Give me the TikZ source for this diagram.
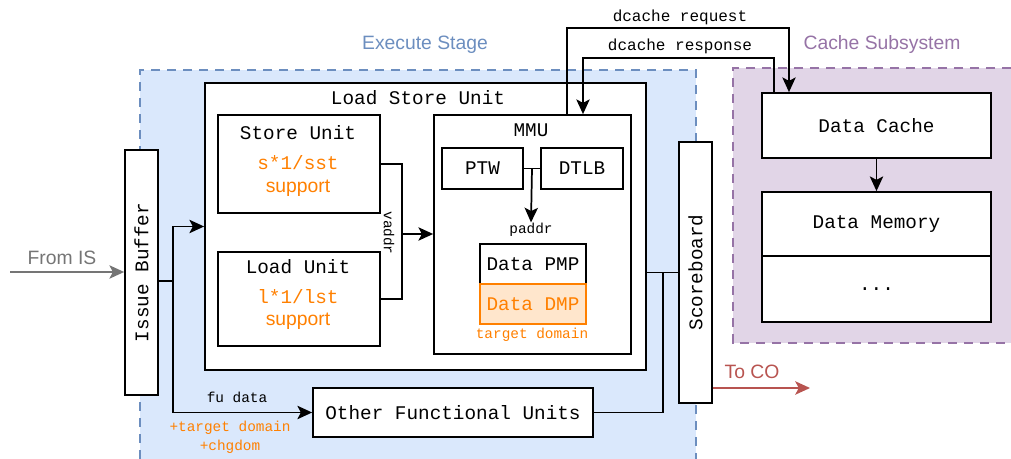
\documentclass[tikz,border=0pt]{standalone}
\usepackage{fontspec}
\setmainfont{Liberation Sans}
\setmonofont{Liberation Mono}
\usepackage{xcolor}
\usetikzlibrary{arrows.meta}

\definecolor{exfill}{HTML}{DAE8FC}
\definecolor{exline}{HTML}{6C8EBF}
\definecolor{cafill}{HTML}{E1D5E7}
\definecolor{caline}{HTML}{9673A6}
\definecolor{dmpor}{HTML}{FF8000}
\definecolor{dmpfill}{HTML}{FFE6CC}
\definecolor{isgray}{HTML}{757575}
\definecolor{cored}{HTML}{B85450}

\begin{document}
\begin{tikzpicture}[x=0.75pt,y=-0.75pt,
		line width=1.3pt,
		arr/.style={-{Stealth[length=11pt,width=10pt,inset=2.5pt]}},
		box/.style={draw,fill=white,inner sep=0pt,font=\fontsize{14.5}{17}\ttfamily},
		bigmono/.style={inner sep=0pt,font=\fontsize{14.5}{17}\ttfamily},
		smallmono/.style={inner sep=0pt,font=\fontsize{10.8}{13}\ttfamily},
		bigsans/.style={inner sep=0pt,font=\fontsize{14.5}{17}\selectfont},
		region/.style={line width=1.5pt,dash pattern=on 7pt off 5pt}]
			\useasboundingbox (0,0) rectangle (1011,459);
			
			% Bereiche zeichnen
			\fill[exfill] (140,70) rectangle (696,459);
			\draw[region,exline] (140,459) -- (140,70) -- (696,70) -- (696,459);
			\fill[cafill] (733,68) rectangle (1011,343);
			\draw[region,caline] (1011,68) -- (733,68) -- (733,343) -- (1011,343);
			\node[bigsans,text=exline] (exlabel) at (425,45) {Execute Stage};
			\node[bigsans,text=caline] (calabel) at (882,45) {Cache Subsystem};
			
			% Load Store Unit
			\node[box,minimum width=330.75pt,minimum height=215.25pt] (LSU) at (425.5,226.5) {};
			\node[bigmono] (lsutitle) at (418,98) {Load Store Unit};
			\node[box,minimum width=121.5pt,minimum height=73.5pt] (Store) at (299,164) {};
			\node[bigmono] (storetitle) at (298,133) {Store Unit};
			\node[bigmono,text=dmpor] (storeins) at (298,163) {s*1/sst};
			\node[bigsans,text=dmpor] (storesup) at (298,188) {support};
			\node[box,minimum width=121.5pt,minimum height=70.5pt] (Load) at (299,299) {};
			\node[bigmono] (loadtitle) at (298,267) {Load Unit};
			\node[bigmono,text=dmpor] (loadins) at (298,297) {l*1/lst};
			\node[bigsans,text=dmpor] (loadsup) at (298,321) {support};
			
			% MMU
			\node[box,minimum width=147.75pt,minimum height=179.25pt] (MMU) at (532.5,234.5) {};
			\node[bigmono] (mmutitle) at (531,130) {MMU};
			\node[box,minimum width=60.75pt,minimum height=30.75pt] (PTW) at (482.5,168.5) {PTW};
			\node[box,minimum width=61.5pt,minimum height=30.75pt] (DTLB) at (582,168.5) {DTLB};
			\node[smallmono] (paddr) at (531,230) {paddr};
			\node[box,minimum width=79.5pt,minimum height=30pt] (PMP) at (533,264) {Data PMP};
			\node[box,draw=dmpor,fill=dmpfill,text=dmpor,minimum width=79.5pt,minimum height=30pt] (DMP) at (533,304) {Data DMP};
			\node[smallmono,text=dmpor] (mmudom) at (532,335) {target domain};
			
			% weitere Einheiten
			\node[box,rotate=90,minimum width=183.75pt,minimum height=24.75pt] (IssueBuf) at (141.5,272.5) {Issue Buffer};
			\node[box,rotate=90,minimum width=195.75pt,minimum height=24.75pt] (Score) at (695.5,272.5) {Scoreboard};
			\node[box,minimum width=210pt,minimum height=36.75pt] (OtherFU) at (453,412.5) {Other Functional Units};
			\node[box,minimum width=171.75pt,minimum height=48.75pt] (DCache) at (876.5,125.5) {Data Cache};
			\node[box,minimum width=171.75pt,minimum height=48pt] (DMem) at (876.5,224) {Data Memory};
			\node[box,minimum width=171.75pt,minimum height=49.5pt] (Dots) at (876.5,289) {...};
			
			% Hilfspunkte
			\coordinate (fromis) at (10,272);
			\coordinate (split) at (173,281);
			\coordinate (vjoin) at (402,234);
			\coordinate (tlbmid) at (532,168.5);
			\coordinate (sbjoin) at (663,272.5);
			\coordinate (toco) at (810,388);
			\coordinate (req1) at (567,28);
			\coordinate (req2) at (789,28);
			\coordinate (resp1) at (774,58);
			\coordinate (resp2) at (583,58);
			
			% Verbindungen zeichnen
			\draw[arr,isgray] (fromis) -- (IssueBuf.north |- fromis);
			\node[bigsans,text=isgray] (fromislabel) at (62,258) {From IS};
			\draw (IssueBuf.south |- split) -- (split);
			\draw[arr] (split) |- (LSU.west);
			\draw[arr] (split) |- (OtherFU.west);
			\node[smallmono] (fudata) at (237,397) {fu data};
			\node[smallmono,text=dmpor] (fudom) at (230,428) {+target domain};
			\node[smallmono,text=dmpor] (fuchg) at (230,447) {+chgdom};
			
			\draw (Store.east) -| (vjoin) |- (Load.east);
			\draw[arr] (vjoin) -- (vjoin -| MMU.west);
			\node[smallmono,rotate=-90] (vaddr) at (389,233) {vaddr};
			\draw (PTW.east) -- (DTLB.west);
			\draw[arr] (tlbmid) -- (paddr.north);
			
			\draw (LSU.east |- Score.north) -- (Score.north);
			\draw (OtherFU.east) -| (sbjoin);
			\draw[arr,cored] (Score.south |- toco) -- (toco);
			\node[bigsans,text=cored] (tocolabel) at (752,372) {To CO};
			
			\draw[arr] (DCache.south) -- (DMem.north);
			\draw[arr] (req1 |- MMU.north) -- (req1) -- (req2) -- (req2 |- DCache.north);
			\draw[arr] (resp1 |- DCache.north) -- (resp1) -- (resp2) -- (resp2 |- MMU.north);
			\node[font=\fontsize{12}{14}\ttfamily,inner sep=0pt] (reqlabel) at (680,17) {dcache request};
			\node[font=\fontsize{12}{14}\ttfamily,inner sep=0pt] (resplabel) at (680,46) {dcache response};
	\end{tikzpicture}
\end{document}
